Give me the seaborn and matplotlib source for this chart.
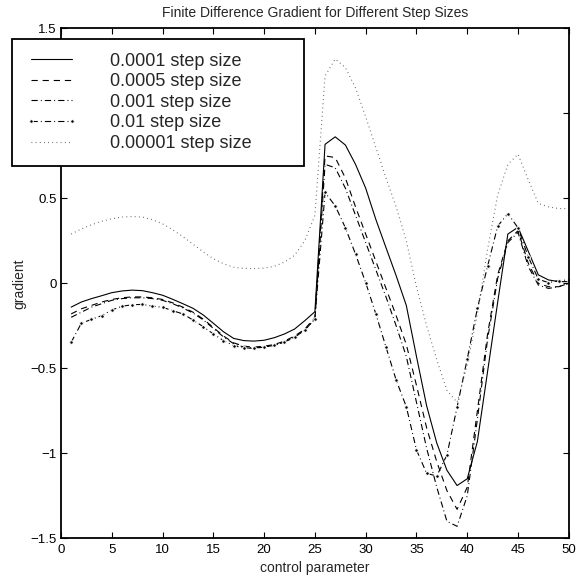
import numpy as np
import pandas as pd
import matplotlib
matplotlib.use("Agg")
import matplotlib.pyplot as plt
import seaborn as sns

# control parameter index
steps = list(range(1, 51))

# 0.0001 step size (solid)
g_1e4 = [-0.14, -0.11, -0.09, -0.073, -0.055, -0.045, -0.04, -0.043, -0.055, -0.07,
         -0.094, -0.12, -0.147, -0.186, -0.235, -0.285, -0.324, -0.337, -0.34, -0.335,
         -0.32, -0.298, -0.269, -0.22, -0.167, 0.818, 0.862, 0.814, 0.70, 0.56,
         0.376, 0.21, 0.045, -0.13, -0.43, -0.72, -0.94, -1.10, -1.19, -1.15,
         -0.93, -0.52, -0.11, 0.29, 0.33, 0.19, 0.05, 0.02, 0.01, 0.01]

# 0.0005 step size (dashed)
g_5e4 = [-0.18, -0.15, -0.13, -0.11, -0.095, -0.085, -0.08, -0.08, -0.085, -0.095,
         -0.115, -0.14, -0.17, -0.21, -0.26, -0.31, -0.35, -0.37, -0.375, -0.37,
         -0.36, -0.34, -0.31, -0.27, -0.20, 0.75, 0.74, 0.62, 0.45, 0.29,
         0.13, -0.03, -0.19, -0.36, -0.60, -0.85, -1.05, -1.22, -1.33, -1.20,
         -0.75, -0.30, 0.05, 0.25, 0.31, 0.12, 0.0, -0.02, -0.02, 0.0]

# 0.001 step size (dash-dot)
g_1e3 = [-0.20, -0.17, -0.14, -0.12, -0.10, -0.09, -0.085, -0.085, -0.09, -0.10,
         -0.12, -0.145, -0.175, -0.215, -0.265, -0.315, -0.355, -0.375, -0.38, -0.375,
         -0.365, -0.345, -0.315, -0.275, -0.21, 0.70, 0.68, 0.56, 0.40, 0.24,
         0.08, -0.08, -0.25, -0.43, -0.70, -0.97, -1.20, -1.40, -1.43, -1.25,
         -0.80, -0.33, 0.03, 0.24, 0.30, 0.10, -0.01, -0.03, -0.02, 0.0]

# 0.01 step size (dash-dot with dots)
g_1e2 = [-0.347, -0.235, -0.212, -0.19, -0.157, -0.135, -0.126, -0.124, -0.134, -0.141,
         -0.161, -0.18, -0.216, -0.255, -0.298, -0.337, -0.367, -0.379, -0.383, -0.375,
         -0.365, -0.345, -0.318, -0.275, -0.21, 0.535, 0.456, 0.327, 0.172, 0.004,
         -0.18, -0.375, -0.569, -0.726, -0.98, -1.118, -1.134, -1.01, -0.728, -0.445,
         -0.147, 0.10, 0.337, 0.41, 0.327, 0.157, 0.024, 0.004, 0.016, 0.02]

# 0.00001 step size (dotted)
g_1e5 = [0.29, 0.32, 0.345, 0.365, 0.38, 0.39, 0.393, 0.39, 0.375, 0.35,
         0.315, 0.275, 0.23, 0.185, 0.145, 0.115, 0.095, 0.088, 0.087, 0.09,
         0.10, 0.125, 0.165, 0.25, 0.40, 1.22, 1.32, 1.27, 1.15, 0.98,
         0.80, 0.62, 0.45, 0.25, -0.02, -0.25, -0.45, -0.63, -0.70, -0.48,
         -0.18, 0.20, 0.52, 0.70, 0.76, 0.61, 0.47, 0.45, 0.44, 0.44]

series_labels = ["0.0001 step size", "0.0005 step size", "0.001 step size",
                 "0.01 step size", "0.00001 step size"]
x_ticks = [0, 5, 10, 15, 20, 25, 30, 35, 40, 45, 50]
y_ticks = [-1.5, -1, -0.5, 0, 0.5, 1, 1.5]
y_tick_labels = ["\u22121.5", "\u22121", "\u22120.5", "0", "0.5", "1", "1.5"]

sns.set_style("ticks")
plt.rcParams["font.family"] = ["Liberation Sans", "DejaVu Sans"]
plt.rcParams["lines.scale_dashes"] = False

fig = plt.figure(figsize=(5.81, 5.80), dpi=100)
ax = fig.add_axes([0.105, 0.072, 0.874, 0.879])

styles = [
    dict(linestyle="-"),
    dict(linestyle=(0, (4.5, 3.5))),
    dict(linestyle=(0, (4.5, 2.2, 0.7, 2.2))),
    dict(linestyle=(0, (4.5, 2.2, 0.7, 2.2)), marker="o", markersize=2.6),
    dict(linestyle=(0, (0.6, 2.4)), color="#555555"),
]
data = [g_1e4, g_5e4, g_1e3, g_1e2, g_1e5]

for vals, lab, st in zip(data, series_labels, styles):
    df = pd.DataFrame({"x": steps, "y": vals})
    kw = dict(color="black", linewidth=0.8)
    kw.update(st)
    sns.lineplot(data=df, x="x", y="y", ax=ax, label=lab, **kw)

ax.set_xlim(0, 50)
ax.set_ylim(-1.5, 1.5)
ax.set_xticks(x_ticks)
ax.set_yticks(y_ticks)
ax.set_yticklabels(y_tick_labels)
ax.tick_params(direction="in", length=4, width=0.8, labelsize=9.5,
               top=True, right=True, colors="black")
ax.tick_params(axis="x", pad=4)
ax.tick_params(axis="y", pad=3)
for sp in ax.spines.values():
    sp.set_visible(True)
    sp.set_linewidth(1.3)
    sp.set_color("black")

ax.set_title("Finite Difference Gradient for Different Step Sizes", fontsize=10, pad=8)
ax.set_xlabel("control parameter", fontsize=10, labelpad=4)
ax.set_ylabel("gradient", fontsize=10, labelpad=3)

leg = ax.legend(loc="upper left",
                bbox_to_anchor=(12 / 581, 1 - 163 / 580, 292 / 581, 124 / 580),
                bbox_transform=fig.transFigure, mode="expand", numpoints=2,
                fontsize=13, frameon=True, fancybox=False, edgecolor="black",
                framealpha=1, handlelength=2.9, handletextpad=1.8,
                labelspacing=0.2, borderpad=0.75, borderaxespad=0)
leg.get_frame().set_linewidth(1.3)

fig.savefig("out.png", dpi=100)
